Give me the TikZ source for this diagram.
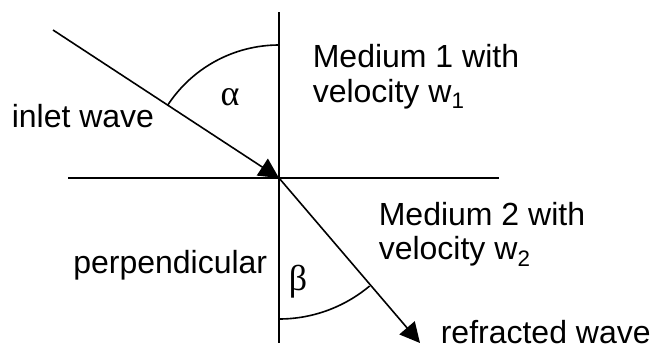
\documentclass[tikz,border=0pt]{standalone}
\usepackage{fontspec}
\setmainfont{Liberation Sans}
\newfontfamily\greekfont{Liberation Serif}
\usetikzlibrary{arrows.meta}
\begin{document}
\begin{tikzpicture}[x=1pt,y=-1pt,line width=1.6pt,
  lbl/.style={inner sep=0pt,anchor=base west,font=\fontsize{32}{34}\selectfont},
  greek/.style={inner sep=0pt,font=\greekfont\fontsize{36}{38}\selectfont},
  ray/.style={-{Triangle[length=20pt,width=20pt]}}]
\useasboundingbox (0,0) rectangle (650,356);
\coordinate (O) at (279,178);
\coordinate (vt) at (279,12);
\coordinate (vb) at (279,343);
\coordinate (hl) at (68,178);
\coordinate (hr) at (499,178);
\coordinate (in) at (53,30);
\coordinate (out) at (420,343);
\draw (vt) -- (vb);
\draw (hl) -- (hr);
\draw[ray] (in) -- (O);
\draw[ray] (O) -- (out);
\draw ([shift={(213.2:133)}]O) arc[start angle=213.2,end angle=270,radius=133];
\draw ([shift={(90:141)}]O) arc[start angle=90,end angle=50,radius=141];
\node[lbl] (inlet) at (11,127.5) {inlet wave};
\node[greek] (alpha) at (230,97) {α};
\node[lbl] (m1a) at (312,67) {Medium 1 with};
\node[lbl] (m1b) at (312,102) {velocity w\textsubscript{1}};
\node[lbl] (m2a) at (378,225) {Medium 2 with};
\node[lbl] (m2b) at (378,259) {velocity w\textsubscript{2}};
\node[lbl,anchor=base east] (perp) at (268,273.5) {perpendicular};
\node[greek] (beta) at (298,282) {β};
\node[lbl] (refr) at (440,343.5) {refracted wave};
\end{tikzpicture}
\end{document}
